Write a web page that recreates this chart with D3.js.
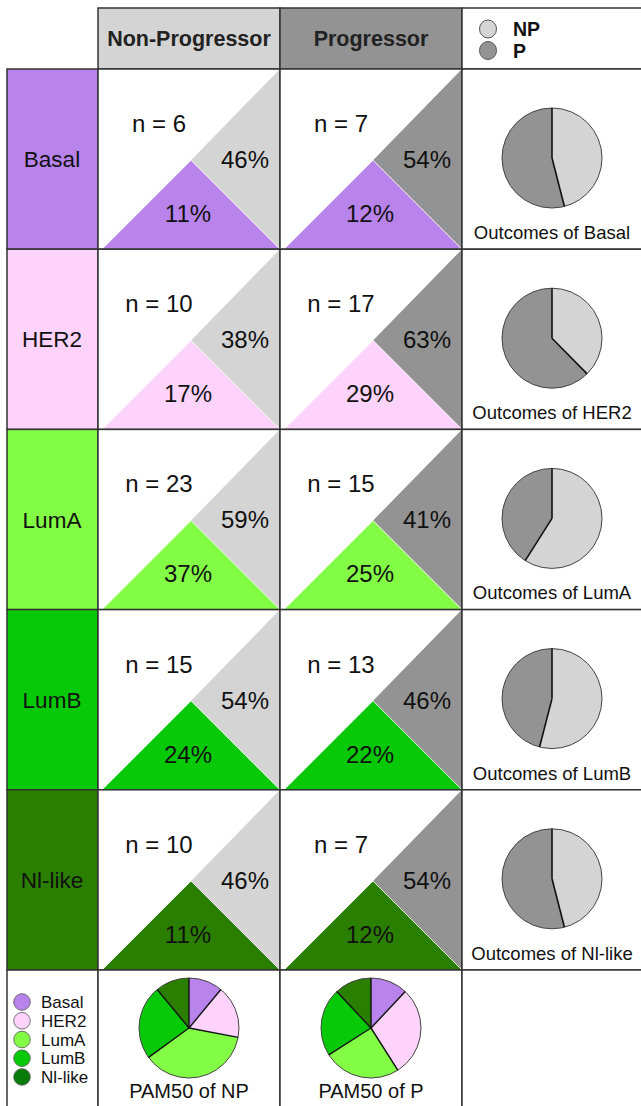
<!DOCTYPE html>
<html>
<head>
<meta charset="utf-8">
<script src="https://cdn.jsdelivr.net/npm/d3@7"></script>
<style>
  html, body { margin: 0; padding: 0; background: #fff; }
  svg { display: block; font-family: "Liberation Sans", Arial, Helvetica, sans-serif; }
</style>
</head>
<body>
<svg id="chart" width="641" height="1106"></svg>
<script>
// ---- data ----
const subtypes = ["Basal", "HER2", "LumA", "LumB", "Nl-like"];
const groups = ["Non-Progressor", "Progressor"];
const groupShort = ["NP", "P"];
const npCounts = [6, 10, 23, 15, 10];
const pCounts = [7, 17, 15, 13, 7];
const npOutcomePct = [46, 38, 59, 54, 46];   // share of subtype that is NP
const pOutcomePct = [54, 63, 41, 46, 54];    // share of subtype that is P
const npPam50Pct = [11, 17, 37, 24, 11];     // share of NP group in each subtype
const pPam50Pct = [12, 29, 25, 22, 12];      // share of P group in each subtype

// ---- styles ----
const subtypeColors = ["#b983ec", "#fdd3fc", "#82fc44", "#07c907", "#2a7f00"];
const legendColors = ["#b983ec", "#fdd3fc", "#82fc44", "#07c907", "#087a08"];
const groupColors = ["#d4d4d4", "#939393"];
const borderColor = "#333";
const textColor = "#111";

const svg = d3.select("#chart");

// ---- scales ----
const colX = d3.scaleBand().domain(["NP", "P", "OUT"]).range([98, 644]);
const rowY = d3.scaleBand().domain(subtypes).range([69, 970]);
const labelX0 = 7, labelX1 = 98;
const headerY0 = 8, headerY1 = 69;
const bottomY0 = 970, bottomY1 = 1110;
const colorScale = d3.scaleOrdinal().domain(subtypes).range(subtypeColors);
const legendScale = d3.scaleOrdinal().domain(subtypes).range(legendColors);
const groupColor = d3.scaleOrdinal().domain(groupShort).range(groupColors);

// ---- header ----
const header = svg.append("g");
groupShort.forEach((g, i) => {
  header.append("rect")
    .attr("x", colX(g)).attr("y", headerY0)
    .attr("width", colX.bandwidth()).attr("height", headerY1 - headerY0)
    .attr("fill", groupColor(g)).attr("stroke", borderColor).attr("stroke-width", 1.5);
  header.append("text")
    .attr("x", colX(g) + colX.bandwidth() / 2).attr("y", 46)
    .attr("text-anchor", "middle").attr("font-size", 21.5).attr("font-weight", "bold")
    .attr("fill", "#222").text(groups[i]);
});
header.append("rect")
  .attr("x", colX("OUT")).attr("y", headerY0)
  .attr("width", colX.bandwidth()).attr("height", headerY1 - headerY0)
  .attr("fill", "#fff").attr("stroke", borderColor).attr("stroke-width", 1.5);
const legY = d3.scalePoint().domain(groupShort).range([29, 50.5]);
groupShort.forEach(g => {
  header.append("ellipse")
    .attr("cx", colX("OUT") + 26).attr("cy", legY(g)).attr("rx", 8.5).attr("ry", 9)
    .attr("fill", groupColor(g)).attr("stroke", "#555").attr("stroke-width", 1);
  header.append("text")
    .attr("x", colX("OUT") + 51).attr("y", legY(g) + 7)
    .attr("font-size", 19.5).attr("font-weight", "bold").attr("fill", textColor).text(g);
});

// ---- rows ----
const outcomeArc = d3.arc().innerRadius(0).outerRadius(50);
const pie = d3.pie().sort(null).value(d => d);

subtypes.forEach((s, i) => {
  const y0 = rowY(s), y1 = y0 + rowY.bandwidth();
  const g = svg.append("g");
  // label cell
  g.append("rect").attr("x", labelX0).attr("y", y0)
    .attr("width", labelX1 - labelX0).attr("height", y1 - y0)
    .attr("fill", colorScale(s)).attr("stroke", borderColor).attr("stroke-width", 1.5);
  g.append("text").attr("x", (labelX0 + labelX1) / 2 - 0.5).attr("y", (y0 + y1) / 2 + 8)
    .attr("text-anchor", "middle").attr("font-size", 22.5).attr("fill", textColor).text(s);

  // group cells
  const counts = [npCounts[i], pCounts[i]];
  const outPct = [npOutcomePct[i], pOutcomePct[i]];
  const pamPct = [npPam50Pct[i], pPam50Pct[i]];
  groupShort.forEach((gr, j) => {
    const x0 = colX(gr), x1 = x0 + colX.bandwidth();
    g.append("rect").attr("x", x0).attr("y", y0)
      .attr("width", x1 - x0).attr("height", y1 - y0)
      .attr("fill", "#fff");
    const bx0 = x0 + 4;
    const apex = [(bx0 + x1) / 2, y1 - (x1 - bx0) / 2];
    g.append("path")
      .attr("d", d3.line()([[x1, y0], [x1, y1], apex]))
      .attr("fill", groupColor(gr));
    g.append("path")
      .attr("d", d3.line()([[bx0, y1], [x1, y1], apex]) + "Z")
      .attr("fill", colorScale(s)).attr("stroke", "#fff").attr("stroke-width", 0.8)
      .attr("stroke-linejoin", "miter");
    g.append("rect").attr("x", x0).attr("y", y0)
      .attr("width", x1 - x0).attr("height", y1 - y0)
      .attr("fill", "none").attr("stroke", borderColor).attr("stroke-width", 1.5);
    g.append("text").attr("x", x0 + 61).attr("y", y0 + 63)
      .attr("text-anchor", "middle").attr("font-size", 24).attr("fill", textColor)
      .text("n = " + counts[j]);
    g.append("text").attr("x", x0 + 147).attr("y", y0 + 99)
      .attr("text-anchor", "middle").attr("font-size", 24).attr("fill", textColor)
      .text(outPct[j] + "%");
    g.append("text").attr("x", x0 + 90).attr("y", y0 + 153)
      .attr("text-anchor", "middle").attr("font-size", 24).attr("fill", textColor)
      .text(pamPct[j] + "%");
  });

  // outcome cell
  const ox0 = colX("OUT");
  g.append("rect").attr("x", ox0).attr("y", y0)
    .attr("width", colX.bandwidth()).attr("height", y1 - y0)
    .attr("fill", "#fff").attr("stroke", borderColor).attr("stroke-width", 1.5);
  const pg = g.append("g").attr("transform", `translate(${ox0 + 90},${y0 + 89})`);
  const arcs = pie([npOutcomePct[i], pOutcomePct[i]]);
  pg.selectAll("path.slice").data(arcs).join("path").attr("class", "slice")
    .attr("d", outcomeArc)
    .attr("fill", (d, k) => groupColor(groupShort[k]))
    .attr("stroke", "none");
  pg.append("circle").attr("r", 50).attr("fill", "none").attr("stroke", "#444").attr("stroke-width", 1);
  pg.selectAll("line.sep").data(arcs).join("line").attr("class", "sep")
    .attr("x1", 0).attr("y1", 0)
    .attr("x2", d => 50 * Math.sin(d.startAngle))
    .attr("y2", d => -50 * Math.cos(d.startAngle))
    .attr("stroke", "#111").attr("stroke-width", 1.6);
  g.append("text").attr("x", ox0 + 90).attr("y", y0 + 170)
    .attr("text-anchor", "middle").attr("font-size", 18.5).attr("fill", textColor)
    .text("Outcomes of " + s);
});

// ---- bottom row ----
const bottom = svg.append("g");
bottom.append("rect").attr("x", labelX0).attr("y", bottomY0)
  .attr("width", labelX1 - labelX0).attr("height", bottomY1 - bottomY0)
  .attr("fill", "#fff").attr("stroke", borderColor).attr("stroke-width", 1.5);
const legendY = d3.scalePoint().domain(subtypes).range([1002, 1077]);
subtypes.forEach(s => {
  bottom.append("circle").attr("cx", 22).attr("cy", legendY(s)).attr("r", 8.3)
    .attr("fill", legendScale(s)).attr("stroke", "#555").attr("stroke-width", 0.8);
  bottom.append("text").attr("x", 41).attr("y", legendY(s) + 6)
    .attr("font-size", 17).attr("fill", textColor).text(s);
});
const pamArc = d3.arc().innerRadius(0).outerRadius(50);
[["NP", npPam50Pct], ["P", pPam50Pct]].forEach(([gr, vals]) => {
  const x0 = colX(gr);
  bottom.append("rect").attr("x", x0).attr("y", bottomY0)
    .attr("width", colX.bandwidth()).attr("height", bottomY1 - bottomY0)
    .attr("fill", "#fff").attr("stroke", borderColor).attr("stroke-width", 1.5);
  const pg = bottom.append("g").attr("transform", `translate(${x0 + 91},${1028})`);
  const arcs = pie(vals);
  pg.selectAll("path").data(arcs).join("path")
    .attr("d", pamArc)
    .attr("fill", (d, k) => colorScale(subtypes[k]))
    .attr("stroke", "none");
  pg.append("circle").attr("r", 50).attr("fill", "none").attr("stroke", "#444").attr("stroke-width", 1);
  pg.selectAll("line").data(arcs).join("line")
    .attr("x1", 0).attr("y1", 0)
    .attr("x2", d => 50 * Math.sin(d.startAngle))
    .attr("y2", d => -50 * Math.cos(d.startAngle))
    .attr("stroke", "#111").attr("stroke-width", 1.4);
  bottom.append("text").attr("x", x0 + 91).attr("y", 1098)
    .attr("text-anchor", "middle").attr("font-size", 20).attr("fill", textColor)
    .text("PAM50 of " + gr);
});
bottom.append("rect").attr("x", colX("OUT")).attr("y", bottomY0)
  .attr("width", colX.bandwidth()).attr("height", bottomY1 - bottomY0)
  .attr("fill", "#fff").attr("stroke", borderColor).attr("stroke-width", 1.5);
</script>
</body>
</html>
